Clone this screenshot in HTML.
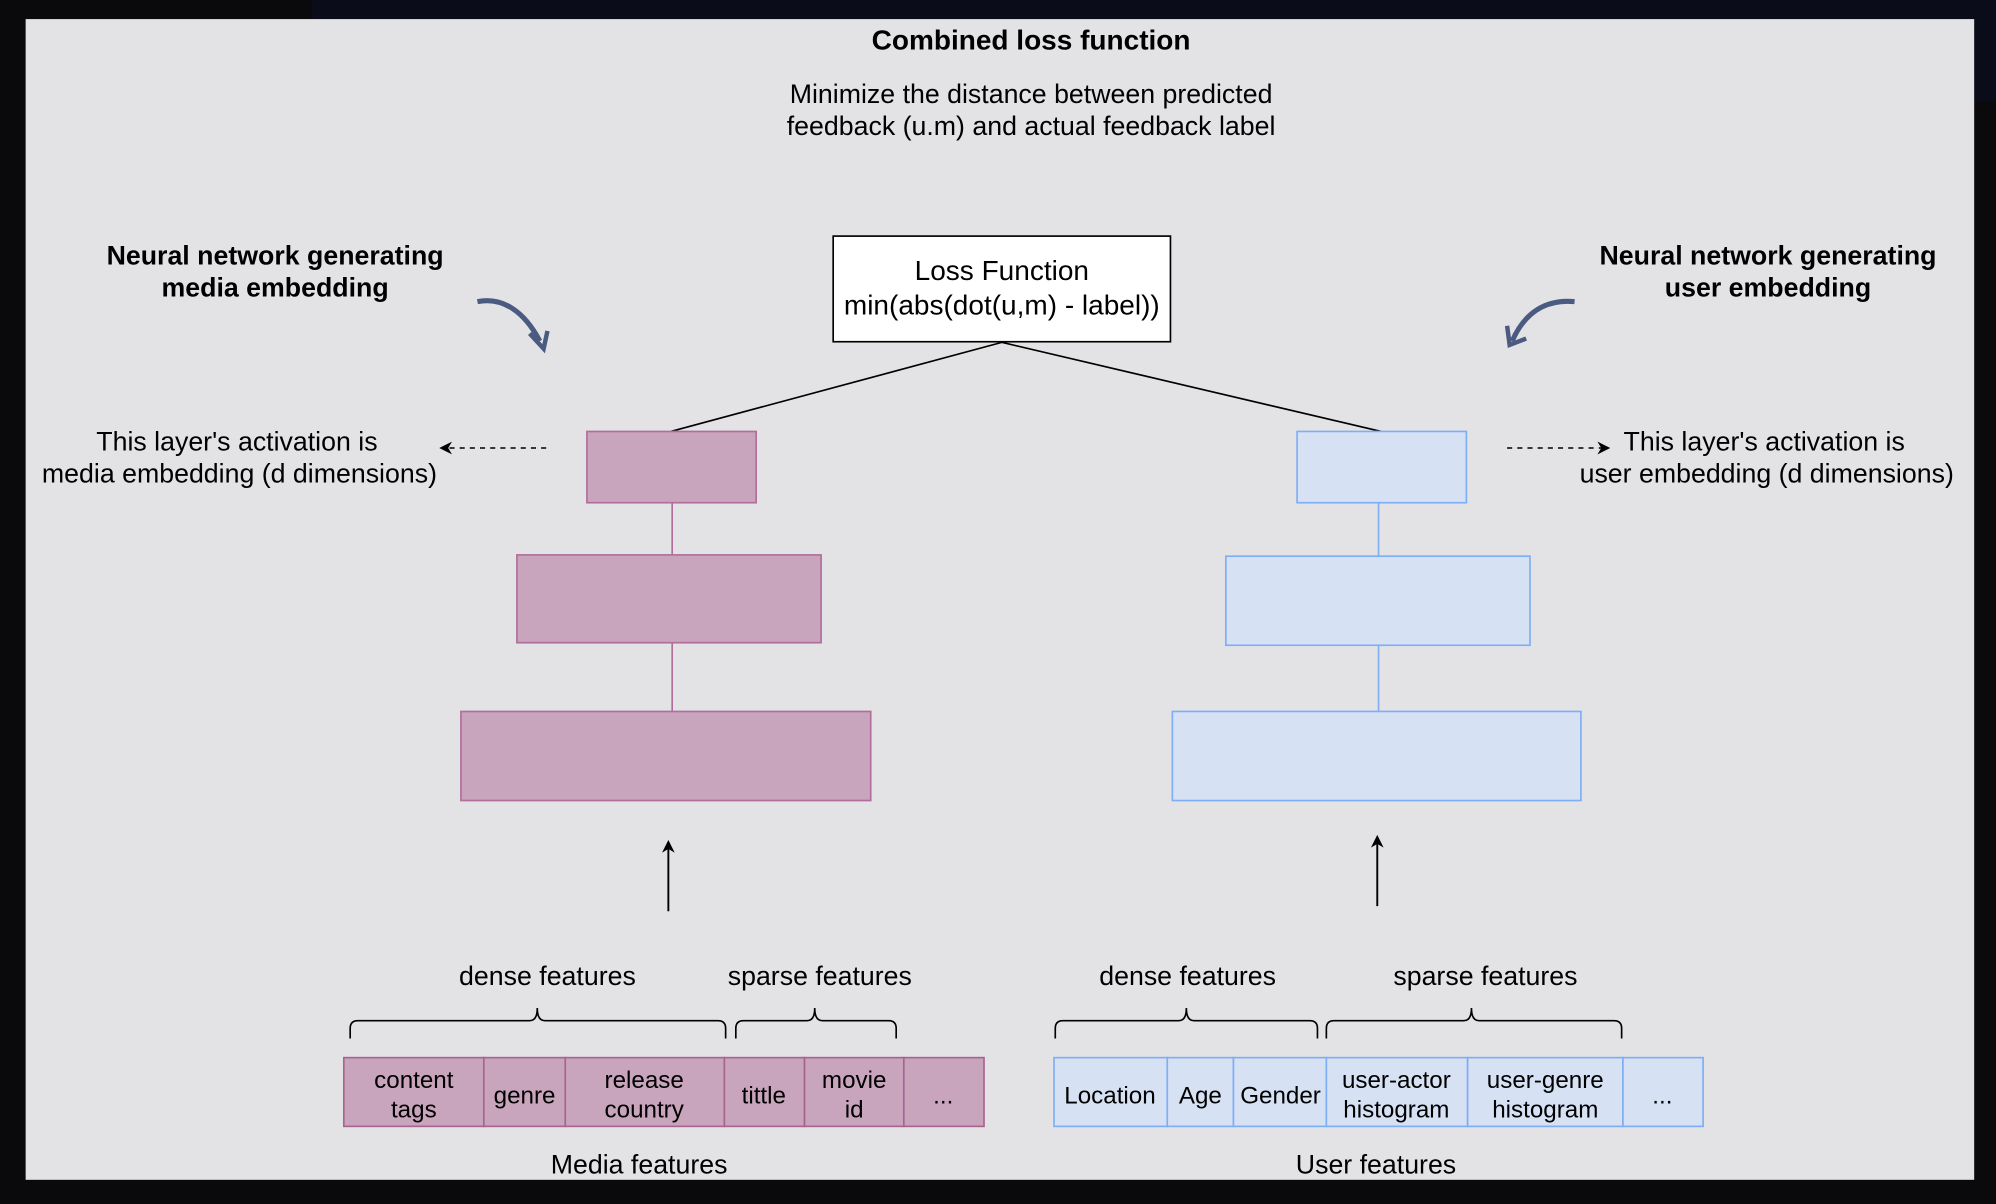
<!DOCTYPE html>
<html><head><meta charset="utf-8"><style>
html,body{margin:0;padding:0;background:#0a0a0c;}
svg{display:block;}
text{font-family:"Liberation Sans",Arial,sans-serif;fill:#000;}
</style></head><body>
<svg width="1996" height="1204" viewBox="0 0 1568 946" xmlns="http://www.w3.org/2000/svg">
<defs>
<marker id="ah" markerWidth="10" markerHeight="10" refX="8" refY="5" orient="auto" markerUnits="userSpaceOnUse">
<path d="M0,0 L10,5 L0,10 L3,5 Z" fill="#000"/></marker>
</defs>
<rect x="0" y="0" width="1568" height="946" fill="#0a0a0c"/>
<rect x="245" y="0" width="1323" height="80" fill="#0b0c1a"/>
<rect x="20" y="15" width="1531" height="912" fill="#e3e3e6"/>

<text x="810" y="39" font-size="22" font-weight="bold" text-anchor="middle">Combined loss function</text>
<text x="810" y="81" font-size="21" text-anchor="middle">Minimize the distance between predicted</text>
<text x="810" y="106" font-size="21" text-anchor="middle">feedback (u.m) and actual feedback label</text>

<rect x="654.5" y="185.5" width="265" height="83" fill="#fff" stroke="#000" stroke-width="1.3"/>
<text x="787" y="220" font-size="22" text-anchor="middle">Loss Function</text>
<text x="787" y="247" font-size="22" text-anchor="middle">min(abs(dot(u,m) - label))</text>
<line x1="787" y1="269" x2="527" y2="339" stroke="#000" stroke-width="1.3"/>
<line x1="787" y1="269" x2="1085" y2="339" stroke="#000" stroke-width="1.3"/>

<text x="216" y="208" font-size="21" font-weight="bold" text-anchor="middle">Neural network generating</text>
<text x="216" y="233" font-size="21" font-weight="bold" text-anchor="middle">media embedding</text>
<text x="1389" y="208" font-size="21" font-weight="bold" text-anchor="middle">Neural network generating</text>
<text x="1389" y="233" font-size="21" font-weight="bold" text-anchor="middle">user embedding</text>

<path d="M375,237 C395,233 412,245 424,268" stroke="#4a5a80" stroke-width="4" fill="none"/>
<path d="M416,262 L427,274 L430,260" stroke="#4a5a80" stroke-width="3.5" fill="none"/>
<path d="M1237,237 C1215,235 1198,245 1188,268" stroke="#4a5a80" stroke-width="4" fill="none"/>
<path d="M1184,256 L1186,271 L1199,266" stroke="#4a5a80" stroke-width="3.5" fill="none"/>

<text x="186" y="354" font-size="21" text-anchor="middle">This layer's activation is</text>
<text x="188" y="379" font-size="21" text-anchor="middle">media embedding (d dimensions)</text>
<text x="1386" y="354" font-size="21" text-anchor="middle">This layer's activation is</text>
<text x="1388" y="379" font-size="21" text-anchor="middle">user embedding (d dimensions)</text>
<line x1="429" y1="352" x2="347" y2="352" stroke="#000" stroke-width="1.2" stroke-dasharray="4,4" marker-end="url(#ah)"/>
<line x1="1184" y1="352" x2="1263" y2="352" stroke="#000" stroke-width="1.2" stroke-dasharray="4,4" marker-end="url(#ah)"/>

<g fill="#c8a4bd" stroke="#b06f9a" stroke-width="1.3">
<rect x="461" y="339" width="133" height="56"/>
<rect x="406" y="436" width="239" height="69"/>
<rect x="362" y="559" width="322" height="70"/>
</g>
<line x1="528" y1="395" x2="528" y2="436" stroke="#b06f9a" stroke-width="1.3"/>
<line x1="528" y1="505" x2="528" y2="559" stroke="#b06f9a" stroke-width="1.3"/>
<g fill="#d6e1f4" stroke="#7eaef5" stroke-width="1.3">
<rect x="1019" y="339" width="133" height="56"/>
<rect x="963" y="437" width="239" height="70"/>
<rect x="921" y="559" width="321" height="70"/>
</g>
<line x1="1083" y1="395" x2="1083" y2="437" stroke="#7eaef5" stroke-width="1.3"/>
<line x1="1083" y1="507" x2="1083" y2="559" stroke="#7eaef5" stroke-width="1.3"/>

<line x1="525" y1="716" x2="525" y2="662" stroke="#000" stroke-width="1.5" marker-end="url(#ah)"/>
<line x1="1082" y1="712" x2="1082" y2="658" stroke="#000" stroke-width="1.5" marker-end="url(#ah)"/>

<text x="430" y="774" font-size="21" text-anchor="middle">dense features</text>
<text x="644" y="774" font-size="21" text-anchor="middle">sparse features</text>
<text x="933" y="774" font-size="21" text-anchor="middle">dense features</text>
<text x="1167" y="774" font-size="21" text-anchor="middle">sparse features</text>

<g stroke="#000" stroke-width="1.3" fill="none">
<path d="M275,816 L275,808 Q275,802 281,802 L416,802 Q422,802 422,792 Q422,802 428,802 L564,802 Q570,802 570,808 L570,816"/>
<path d="M578,816 L578,808 Q578,802 584,802 L634,802 Q640,802 640,792 Q640,802 646,802 L698,802 Q704,802 704,808 L704,816"/>
<path d="M829,816 L829,808 Q829,802 835,802 L926,802 Q932,802 932,792 Q932,802 938,802 L1029,802 Q1035,802 1035,808 L1035,816"/>
<path d="M1042,816 L1042,808 Q1042,802 1048,802 L1150,802 Q1156,802 1156,792 Q1156,802 1162,802 L1268,802 Q1274,802 1274,808 L1274,816"/>
</g>

<g fill="#c8a4bd" stroke="#a8638f" stroke-width="1.3">
<rect x="270" y="831" width="110" height="54"/>
<rect x="380" y="831" width="64" height="54"/>
<rect x="444" y="831" width="125" height="54"/>
<rect x="569" y="831" width="63" height="54"/>
<rect x="632" y="831" width="78" height="54"/>
<rect x="710" y="831" width="63" height="54"/>
</g>
<g font-size="19" text-anchor="middle">
<text x="325" y="855">content</text><text x="325" y="878">tags</text>
<text x="412" y="867">genre</text>
<text x="506" y="855">release</text><text x="506" y="878">country</text>
<text x="600" y="867">tittle</text>
<text x="671" y="855">movie</text><text x="671" y="878">id</text>
<text x="741" y="867">...</text>
</g>
<g fill="#d6e1f4" stroke="#7eaef5" stroke-width="1.3">
<rect x="828" y="831" width="89" height="54"/>
<rect x="917" y="831" width="52" height="54"/>
<rect x="969" y="831" width="73" height="54"/>
<rect x="1042" y="831" width="111" height="54"/>
<rect x="1153" y="831" width="122" height="54"/>
<rect x="1275" y="831" width="63" height="54"/>
</g>
<g font-size="19" text-anchor="middle">
<text x="872" y="867">Location</text>
<text x="943" y="867">Age</text>
<text x="1006" y="867">Gender</text>
<text x="1097" y="855">user-actor</text><text x="1097" y="878">histogram</text>
<text x="1214" y="855">user-genre</text><text x="1214" y="878">histogram</text>
<text x="1306" y="867">...</text>
</g>
<text x="502" y="922" font-size="21" text-anchor="middle">Media features</text>
<text x="1081" y="922" font-size="21" text-anchor="middle">User features</text>
</svg>
</body></html>
